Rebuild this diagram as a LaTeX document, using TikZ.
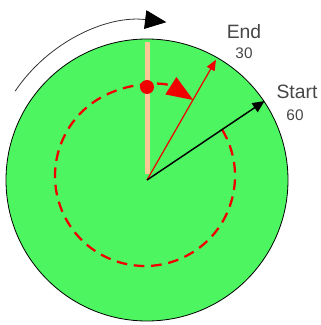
\documentclass[tikz,border=0pt]{standalone}
\usepackage{fontspec}
\setmainfont{Liberation Sans}
\usepackage{xcolor}
\usetikzlibrary{arrows.meta,positioning,calc}
\definecolor{dialgreen}{RGB}{77,245,96}
\definecolor{barpeach}{RGB}{250,200,150}
\definecolor{pathred}{RGB}{240,0,0}
\definecolor{labelgray}{RGB}{70,70,70}

\begin{document}
\begin{tikzpicture}[x=0.75pt,y=0.75pt,
  bigtxt/.style={text=labelgray,font=\fontsize{14.5}{16}\selectfont,inner sep=0pt},
  numtxt/.style={text=labelgray,font=\fontsize{11.5}{13}\selectfont,inner sep=0pt}]
  \useasboundingbox (0,0) rectangle (321,325);
  % dial: centre (147,145) in px units, y grows upward
  \coordinate (O) at (147,145);
  \fill[dialgreen,draw=black,line width=0.6pt] (O) circle[radius=141];
  % zero mark (vertical bar) and the moving dot on it
  \fill[barpeach] (145,151) rectangle (150,283);
  % dashed sweep, clockwise from start back round to end
  \draw[pathred,line width=1.7pt,dash pattern=on 8pt off 5pt,
        -{Triangle[length=20pt,width=15pt]}]
    (145,149) ++(31:90) arc[start angle=31,end angle=-302.5,radius=90];
  \fill[pathred] (147,238) circle[radius=7];
  % end and start pointers
  \coordinate (endtip) at ($(146,144)+(60:140)$);
  \coordinate (starttip) at ($(146,144)+(34:143)$);
  \draw[pathred,line width=0.9pt,-{Triangle[length=8pt,width=6.5pt]}] (O) -- (endtip);
  \draw[black,line width=1.1pt,-{Triangle[length=9pt,width=8pt]}] (O) -- (starttip);
  % labels
  \node[bigtxt] (endlbl) at (244,293) {End};
  \node[numtxt] (endval) at (244,272) {30};
  \node[bigtxt] (startlbl) at (297,233) {Start};
  \node[numtxt] (startval) at (295,210) {60};
  % rotation sense, outside the dial
  \draw[black!80,line width=0.6pt,-{Triangle[length=16pt,width=14pt,black]}]
    (O) ++(146:159) arc[start angle=146,end angle=83,radius=159];
\end{tikzpicture}
\end{document}
